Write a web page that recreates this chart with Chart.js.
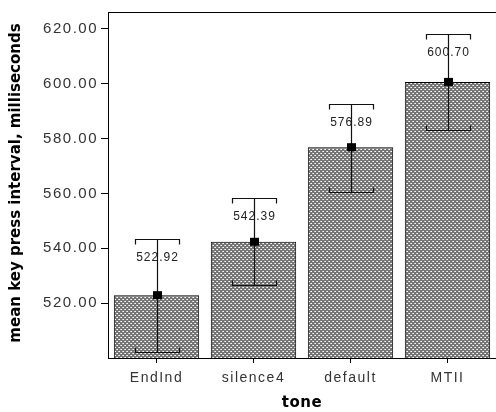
<!DOCTYPE html>
<html>
<head>
<meta charset="utf-8">
<script src="https://cdn.jsdelivr.net/npm/chart.js@4"></script>
<style>
  html, body { margin: 0; padding: 0; background: #fff; }
  #wrap { width: 496px; height: 412px; }
</style>
</head>
<body>
<div id="wrap"><canvas id="chart" width="496" height="412"></canvas></div>
<script>
// values
const categories = ["EndInd", "silence4", "default", "MTII"];
const means = [522.92, 542.39, 576.89, 600.70];
const lowerCI = [502.3, 526.6, 560.5, 583.0];
const upperCI = [543.4, 558.2, 592.6, 618.3];
const yTicks = [520, 540, 560, 580, 600, 620];

function makePattern() {
  const c = document.createElement("canvas");
  c.width = 4;
  c.height = 4;
  const g = c.getContext("2d");
  g.fillStyle = "#747474";
  g.fillRect(0, 0, 4, 4);
  g.fillStyle = "#ffffff";
  g.fillRect(1, 1, 1, 1);
  g.fillRect(3, 3, 1, 1);
  g.fillStyle = "#cfcfcf";
  g.fillRect(0, 1, 1, 1);
  g.fillRect(2, 3, 1, 1);
  return g.createPattern(c, "repeat");
}

// SPSS style labels are spread out a bit
const spacing = {
  id: "spacing",
  beforeDraw(chart) {
    chart.ctx.letterSpacing = "1.5px";
  }
};

const extras = {
  id: "extras",
  afterDatasetsDraw(chart) {
    const ctx = chart.ctx;
    const x = chart.scales.x;
    const y = chart.scales.y;
    const area = chart.chartArea;
    ctx.save();

    // top frame line
    ctx.strokeStyle = "#000";
    ctx.lineWidth = 1;
    ctx.beginPath();
    ctx.moveTo(area.left, area.top + 0.5);
    ctx.lineTo(area.right, area.top + 0.5);
    ctx.stroke();

    categories.forEach((cat, i) => {
      const cx = Math.round(x.getPixelForValue(i)) + 0.5;
      const yHi = Math.round(y.getPixelForValue(upperCI[i])) + 0.5;
      const yLo = Math.round(y.getPixelForValue(lowerCI[i])) + 0.5;
      const yM = y.getPixelForValue(means[i]);
      const half = 22;

      ctx.strokeStyle = "#111";
      ctx.lineWidth = 1.2;
      ctx.beginPath();
      ctx.moveTo(cx, yHi);
      ctx.lineTo(cx, yLo);
      // upper cap with small down ticks
      ctx.moveTo(cx - half, yHi + 5);
      ctx.lineTo(cx - half, yHi);
      ctx.lineTo(cx + half, yHi);
      ctx.lineTo(cx + half, yHi + 5);
      // lower cap with small up ticks
      ctx.moveTo(cx - half, yLo - 5);
      ctx.lineTo(cx - half, yLo);
      ctx.lineTo(cx + half, yLo);
      ctx.lineTo(cx + half, yLo - 5);
      ctx.stroke();

      // mean marker
      ctx.fillStyle = "#000";
      ctx.fillRect(cx - 4.5, yM - 4, 9, 8);

      // value label
      ctx.letterSpacing = "1px";
      ctx.fillStyle = "#222";
      ctx.font = "12px 'Liberation Sans', Arial, sans-serif";
      ctx.textAlign = "center";
      ctx.textBaseline = "middle";
      ctx.fillText(means[i].toFixed(2), cx, yHi + 18);
    });

    // axis titles
    ctx.letterSpacing = "0.5px";
    ctx.fillStyle = "#000";
    ctx.font = "bold 15px 'DejaVu Sans', Verdana, sans-serif";
    ctx.textAlign = "center";
    ctx.textBaseline = "middle";
    ctx.fillText("tone", (area.left + area.right) / 2, 403);
    ctx.letterSpacing = "0px";
    ctx.translate(16, 183);
    ctx.rotate(-Math.PI / 2);
    ctx.fillText("mean key press interval, milliseconds", 0, 0);
    ctx.restore();
  }
};

new Chart(document.getElementById("chart"), {
  type: "bar",
  data: {
    labels: categories,
    datasets: [
      {
        data: means,
        backgroundColor: makePattern(),
        borderColor: "#000",
        borderWidth: 1,
        borderSkipped: false,
        categoryPercentage: 0.88,
        barPercentage: 1.0
      }
    ]
  },
  options: {
    responsive: false,
    animation: false,
    events: [],
    layout: { padding: { top: 12, right: 0, left: 0, bottom: 0 } },
    plugins: {
      legend: { display: false },
      tooltip: { enabled: false }
    },
    scales: {
      y: {
        min: 500,
        max: 626.2,
        afterBuildTicks: (scale) => {
          scale.ticks = yTicks.map(v => ({ value: v }));
        },
        afterFit: (scale) => { scale.width = 108; },
        grid: { drawOnChartArea: false, drawTicks: true, tickLength: 7, color: "#000" },
        border: { display: true, color: "#000", width: 1 },
        ticks: {
          color: "#333",
          padding: 3,
          font: { family: "'Liberation Sans', Arial, sans-serif", size: 15 },
          callback: (v) => Number(v).toFixed(2)
        }
      },
      x: {
        afterFit: (scale) => { scale.height = 54; },
        grid: { drawOnChartArea: false, drawTicks: true, tickLength: 5, color: "#000", offset: false },
        border: { display: true, color: "#000", width: 1 },
        ticks: {
          color: "#333",
          padding: 7,
          font: { family: "'Liberation Sans', Arial, sans-serif", size: 14 }
        }
      }
    }
  },
  plugins: [spacing, extras]
});
</script>
</body>
</html>
